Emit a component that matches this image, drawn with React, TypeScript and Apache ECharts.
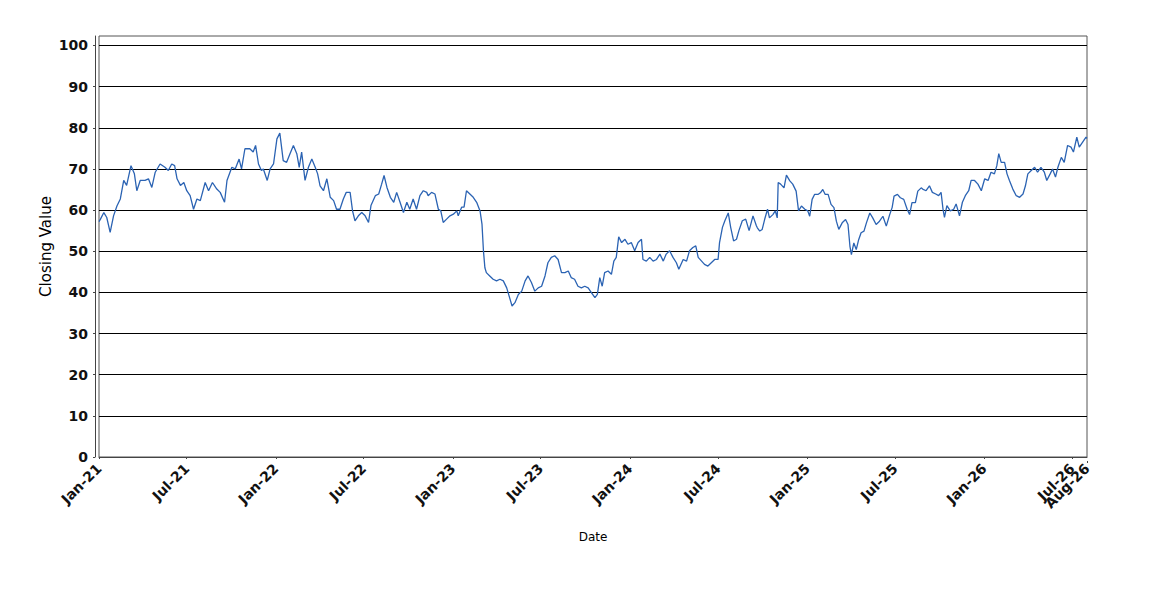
import React, { useEffect, useRef } from 'react';
import * as echarts from 'echarts';

const SERIES_2021: [string, number][] = [
  ['2021-01-01', 57.2], ['2021-01-04', 57.8], ['2021-01-11', 59.4], ['2021-01-17', 58.2], ['2021-01-24', 54.6],
  ['2021-01-31', 58.6], ['2021-02-07', 61.0], ['2021-02-14', 62.7], ['2021-02-21', 67.2], ['2021-02-27', 66.0],
  ['2021-03-08', 70.8], ['2021-03-15', 68.8], ['2021-03-20', 64.7], ['2021-03-27', 67.2], ['2021-04-06', 67.2],
  ['2021-04-13', 67.6], ['2021-04-20', 65.5], ['2021-04-27', 69.2], ['2021-05-07', 71.2], ['2021-05-17', 70.4],
  ['2021-05-24', 69.6], ['2021-05-31', 71.2], ['2021-06-06', 70.8], ['2021-06-11', 67.6], ['2021-06-18', 66.0],
  ['2021-06-25', 66.7], ['2021-07-01', 64.7], ['2021-07-08', 63.5], ['2021-07-15', 60.2], ['2021-07-22', 62.7],
  ['2021-07-29', 62.3], ['2021-08-08', 66.7], ['2021-08-15', 64.7], ['2021-08-23', 66.7], ['2021-09-01', 65.1],
  ['2021-09-08', 64.3], ['2021-09-17', 61.9], ['2021-09-22', 67.2], ['2021-10-02', 70.4], ['2021-10-09', 70.0],
  ['2021-10-17', 72.4], ['2021-10-22', 70.0], ['2021-10-29', 74.9], ['2021-11-08', 74.9], ['2021-11-15', 74.1],
  ['2021-11-20', 75.7], ['2021-11-26', 71.2], ['2021-12-02', 69.6], ['2021-12-06', 70.0], ['2021-12-14', 67.2],
  ['2021-12-20', 70.0], ['2021-12-27', 71.2],
];

const SERIES_2022: [string, number][] = [
  ['2022-01-03', 77.3], ['2022-01-09', 78.7], ['2022-01-16', 72.0], ['2022-01-23', 71.6], ['2022-01-30', 73.7],
  ['2022-02-06', 75.7], ['2022-02-13', 73.7], ['2022-02-18', 70.4], ['2022-02-23', 74.1], ['2022-03-02', 67.2],
  ['2022-03-09', 70.4], ['2022-03-16', 72.4], ['2022-03-23', 70.4], ['2022-03-28', 68.8], ['2022-04-02', 65.9],
  ['2022-04-09', 64.7], ['2022-04-16', 67.6], ['2022-04-23', 63.1], ['2022-04-30', 62.3], ['2022-05-06', 60.2],
  ['2022-05-13', 60.2], ['2022-05-20', 62.7], ['2022-05-26', 64.3], ['2022-06-03', 64.3], ['2022-06-08', 59.8],
  ['2022-06-13', 57.4], ['2022-06-20', 58.6], ['2022-06-27', 59.4], ['2022-07-04', 58.6], ['2022-07-11', 57.0],
  ['2022-07-16', 61.1], ['2022-07-25', 63.5], ['2022-08-01', 63.9], ['2022-08-07', 66.3], ['2022-08-12', 68.4],
  ['2022-08-18', 65.5], ['2022-08-25', 63.1], ['2022-09-01', 61.9], ['2022-09-07', 64.3], ['2022-09-14', 61.9],
  ['2022-09-21', 59.4], ['2022-09-28', 61.9], ['2022-10-04', 60.2], ['2022-10-11', 62.7], ['2022-10-18', 60.2],
  ['2022-10-25', 63.5], ['2022-11-01', 64.7], ['2022-11-08', 64.3], ['2022-11-11', 63.5], ['2022-11-18', 64.3],
  ['2022-11-25', 63.9], ['2022-12-02', 60.2], ['2022-12-07', 59.8], ['2022-12-12', 57.0], ['2022-12-19', 57.8],
  ['2022-12-26', 58.6],
];

const SERIES_2023: [string, number][] = [
  ['2023-01-02', 59.0], ['2023-01-09', 59.8], ['2023-01-12', 58.6], ['2023-01-19', 60.7], ['2023-01-24', 60.7],
  ['2023-01-29', 64.7], ['2023-02-05', 63.9], ['2023-02-12', 63.1], ['2023-02-19', 61.9], ['2023-02-26', 59.8],
  ['2023-03-02', 56.6], ['2023-03-05', 50.1], ['2023-03-08', 46.0], ['2023-03-11', 44.8], ['2023-03-18', 44.0],
  ['2023-03-25', 43.2], ['2023-04-01', 42.8], ['2023-04-08', 43.2], ['2023-04-15', 42.8], ['2023-04-22', 41.1],
  ['2023-04-29', 38.3], ['2023-05-03', 36.7], ['2023-05-09', 37.5], ['2023-05-16', 39.5], ['2023-05-23', 40.3],
  ['2023-05-30', 42.8], ['2023-06-05', 44.0], ['2023-06-12', 42.4], ['2023-06-19', 40.3], ['2023-06-26', 41.1],
  ['2023-07-03', 41.5], ['2023-07-10', 44.0], ['2023-07-16', 47.2], ['2023-07-23', 48.5], ['2023-07-30', 48.9],
  ['2023-08-06', 48.0], ['2023-08-13', 44.8], ['2023-08-20', 44.8], ['2023-08-27', 45.2], ['2023-09-02', 43.6],
  ['2023-09-09', 43.2], ['2023-09-16', 41.5], ['2023-09-23', 41.1], ['2023-09-30', 41.5], ['2023-10-07', 41.1],
  ['2023-10-14', 39.9], ['2023-10-21', 38.7], ['2023-10-26', 39.5], ['2023-10-31', 43.6], ['2023-11-05', 41.5],
  ['2023-11-10', 44.8], ['2023-11-17', 45.2], ['2023-11-24', 44.4], ['2023-11-29', 47.6], ['2023-12-04', 48.5],
  ['2023-12-09', 53.5], ['2023-12-15', 52.1], ['2023-12-22', 52.9], ['2023-12-28', 51.7],
];

const SERIES_2024: [string, number][] = [
  ['2024-01-04', 52.1], ['2024-01-11', 50.1], ['2024-01-18', 52.1], ['2024-01-25', 52.9], ['2024-01-28', 48.0],
  ['2024-02-04', 47.6], ['2024-02-11', 48.5], ['2024-02-18', 47.6], ['2024-02-25', 48.0], ['2024-03-03', 49.3],
  ['2024-03-10', 47.6], ['2024-03-16', 49.3], ['2024-03-23', 50.1], ['2024-03-30', 48.5], ['2024-04-06', 47.2],
  ['2024-04-11', 45.6], ['2024-04-20', 48.0], ['2024-04-27', 47.6], ['2024-05-03', 50.1], ['2024-05-10', 50.9],
  ['2024-05-16', 51.3], ['2024-05-21', 48.5], ['2024-05-28', 47.6], ['2024-06-03', 46.8], ['2024-06-10', 46.4],
  ['2024-06-17', 47.2], ['2024-06-24', 48.0], ['2024-07-01', 48.0], ['2024-07-04', 52.1], ['2024-07-10', 55.8],
  ['2024-07-15', 57.4], ['2024-07-22', 59.3], ['2024-07-27', 55.8], ['2024-08-02', 52.5], ['2024-08-08', 52.9],
  ['2024-08-13', 55.0], ['2024-08-20', 57.4], ['2024-08-27', 57.8], ['2024-09-03', 55.0], ['2024-09-11', 58.6],
  ['2024-09-18', 56.2], ['2024-09-20', 55.7], ['2024-09-25', 54.9], ['2024-09-30', 55.3], ['2024-10-05', 57.7],
  ['2024-10-11', 60.2], ['2024-10-15', 58.1], ['2024-10-22', 58.9], ['2024-10-27', 59.8], ['2024-10-31', 58.1],
  ['2024-11-02', 66.7], ['2024-11-07', 66.3], ['2024-11-14', 65.4], ['2024-11-19', 68.5], ['2024-11-26', 67.1],
  ['2024-12-02', 66.3], ['2024-12-09', 64.6], ['2024-12-14', 59.8], ['2024-12-20', 61.0], ['2024-12-27', 60.2],
];

const SERIES_2025: [string, number][] = [
  ['2025-01-02', 59.8], ['2025-01-06', 58.5], ['2025-01-11', 62.6], ['2025-01-16', 63.8], ['2025-01-23', 63.8],
  ['2025-01-28', 64.2], ['2025-02-02', 65.0], ['2025-02-07', 63.8], ['2025-02-13', 63.8], ['2025-02-19', 61.4],
  ['2025-02-25', 60.6], ['2025-03-02', 57.3], ['2025-03-07', 55.3], ['2025-03-14', 56.9], ['2025-03-21', 57.7],
  ['2025-03-26', 56.5], ['2025-03-30', 51.2], ['2025-04-02', 49.2], ['2025-04-07', 52.0], ['2025-04-12', 50.4],
  ['2025-04-17', 52.8], ['2025-04-22', 54.5], ['2025-04-28', 54.9], ['2025-05-03', 56.9], ['2025-05-10', 59.3],
  ['2025-05-16', 58.1], ['2025-05-23', 56.5], ['2025-05-30', 57.3], ['2025-06-06', 58.5], ['2025-06-13', 56.1],
  ['2025-06-20', 58.9], ['2025-06-25', 60.6], ['2025-06-29', 63.4], ['2025-07-06', 63.8], ['2025-07-12', 63.0],
  ['2025-07-19', 62.6], ['2025-07-26', 60.2], ['2025-07-31', 58.9], ['2025-08-05', 61.8], ['2025-08-12', 61.8],
  ['2025-08-17', 64.6], ['2025-08-24', 65.4], ['2025-08-27', 65.1], ['2025-09-03', 64.7], ['2025-09-10', 65.9],
  ['2025-09-16', 64.3], ['2025-09-23', 63.9], ['2025-09-29', 63.5], ['2025-10-04', 64.3], ['2025-10-08', 60.2],
  ['2025-10-11', 58.2], ['2025-10-16', 61.1], ['2025-10-23', 59.8], ['2025-10-30', 60.2], ['2025-11-04', 61.5],
  ['2025-11-11', 58.6], ['2025-11-17', 61.9], ['2025-11-23', 63.5], ['2025-11-30', 64.7], ['2025-12-05', 67.2],
  ['2025-12-12', 67.2], ['2025-12-19', 66.3], ['2025-12-26', 64.7],
];

const SERIES_2026: [string, number][] = [
  ['2026-01-02', 67.6], ['2026-01-09', 67.2], ['2026-01-15', 69.2], ['2026-01-22', 68.8], ['2026-01-27', 70.8],
  ['2026-01-31', 73.7], ['2026-02-05', 71.6], ['2026-02-12', 71.6], ['2026-02-17', 68.8], ['2026-02-22', 67.2],
  ['2026-03-01', 65.1], ['2026-03-08', 63.5], ['2026-03-15', 63.1], ['2026-03-22', 63.9], ['2026-03-27', 65.9],
  ['2026-04-01', 68.8], ['2026-04-08', 69.6], ['2026-04-15', 70.4], ['2026-04-21', 69.2], ['2026-04-28', 70.4],
  ['2026-05-05', 69.2], ['2026-05-10', 67.2], ['2026-05-17', 68.8], ['2026-05-22', 70.0], ['2026-05-28', 68.0],
  ['2026-06-02', 70.4], ['2026-06-09', 72.8], ['2026-06-15', 71.6], ['2026-06-22', 75.7], ['2026-06-29', 75.3],
  ['2026-07-04', 74.1], ['2026-07-11', 77.7], ['2026-07-16', 75.3], ['2026-07-23', 76.5], ['2026-07-30', 77.7],
  ['2026-08-01', 77.4],
];

// Half-year ticks, plus the final tick at the end of the axis
const X_TICKS = [
  '2021-01-01', '2021-07-01', '2022-01-01', '2022-07-01', '2023-01-01', '2023-07-01',
  '2024-01-01', '2024-07-01', '2025-01-01', '2025-07-01', '2026-01-01', '2026-07-01',
];
const X_END_TICK = '2026-08-01';
const Y_TICKS = [0, 10, 20, 30, 40, 50, 60, 70, 80, 90, 100];
const Y_MAX = 102.3;
const MONTHS = ['Jan', 'Feb', 'Mar', 'Apr', 'May', 'Jun', 'Jul', 'Aug', 'Sep', 'Oct', 'Nov', 'Dec'];

const FONT = '"DejaVu Sans", sans-serif';

function toTime(s: string): number {
  const [y, m, d] = s.split('-').map(Number);
  return new Date(y, m - 1, d).getTime();
}

function fmtDate(v: number): string {
  const d = new Date(v);
  return MONTHS[d.getMonth()] + '-' + String(d.getFullYear()).slice(2);
}

export default function App() {
  const ref = useRef<HTMLDivElement>(null);

  useEffect(() => {
    if (!ref.current) return;
    const chart = echarts.init(ref.current, null, { renderer: 'svg' });
    const all = [...SERIES_2021, ...SERIES_2022, ...SERIES_2023, ...SERIES_2024, ...SERIES_2025, ...SERIES_2026];
    const data = all.map(([d, v]) => [toTime(d), v]);
    const xTicks = X_TICKS.map(toTime);
    const xMin = xTicks[0];
    const xMax = toTime(X_END_TICK);

    const labelStyle = {
      fontFamily: FONT,
      fontSize: 14,
      fontWeight: 'bold',
      color: '#111',
    };

    chart.setOption({
      animation: false,
      backgroundColor: '#ffffff',
      textStyle: { fontFamily: FONT },
      grid: {
        left: 99,
        right: 63,
        top: 36,
        bottom: 143,
        show: true,
        borderColor: '#555555',
        borderWidth: 1,
        backgroundColor: '#ffffff',
      },
      xAxis: [
        {
          type: 'value',
          position: 'bottom',
          min: xMin,
          max: xMax,
          offset: 4,
          name: 'Date',
          nameLocation: 'middle',
          nameGap: 70,
          nameMoveOverlap: false,
          nameTextStyle: { fontFamily: FONT, fontSize: 12, color: '#000' },
          axisLine: { show: true, lineStyle: { color: '#444444', width: 1 } },
          axisTick: { show: true, length: 2, customValues: xTicks, lineStyle: { color: '#444444' } },
          axisLabel: {
            customValues: xTicks,
            rotate: 45,
            margin: 5,
            hideOverlap: false,
            ...labelStyle,
            formatter: fmtDate,
          },
          splitLine: { show: false },
        },
        {
          type: 'value',
          position: 'bottom',
          min: xMin,
          max: xMax,
          offset: 4,
          axisLine: { show: false },
          axisTick: { show: true, length: 2, customValues: [xMax], lineStyle: { color: '#444444' } },
          axisLabel: {
            customValues: [xMax],
            rotate: 45,
            margin: 5,
            hideOverlap: false,
            ...labelStyle,
            formatter: fmtDate,
          },
          splitLine: { show: false },
        },
      ],
      yAxis: {
        type: 'value',
        min: 0,
        max: Y_MAX,
        interval: 10,
        offset: 4,
        name: 'Closing Value',
        nameLocation: 'middle',
        nameGap: 42,
        nameMoveOverlap: false,
        nameTextStyle: { fontFamily: FONT, fontSize: 15, color: '#000' },
        axisLine: { show: true, lineStyle: { color: '#444444', width: 1 } },
        axisTick: { show: true, length: 2, customValues: Y_TICKS, lineStyle: { color: '#444444' } },
        axisLabel: {
          customValues: Y_TICKS,
          margin: 7,
          ...labelStyle,
        },
        splitLine: { show: true, lineStyle: { color: '#000000', width: 1 } },
      },
      series: [
        {
          type: 'line',
          xAxisIndex: 0,
          data,
          showSymbol: false,
          symbol: 'none',
          lineStyle: { color: '#2b63b3', width: 1.3 },
          itemStyle: { color: '#2b63b3' },
        },
      ],
    });

    return () => chart.dispose();
  }, []);

  return (
    <div
      ref={ref}
      style={{ position: 'fixed', left: 0, top: 0, width: 1150, height: 600, background: '#fff' }}
    />
  );
}
